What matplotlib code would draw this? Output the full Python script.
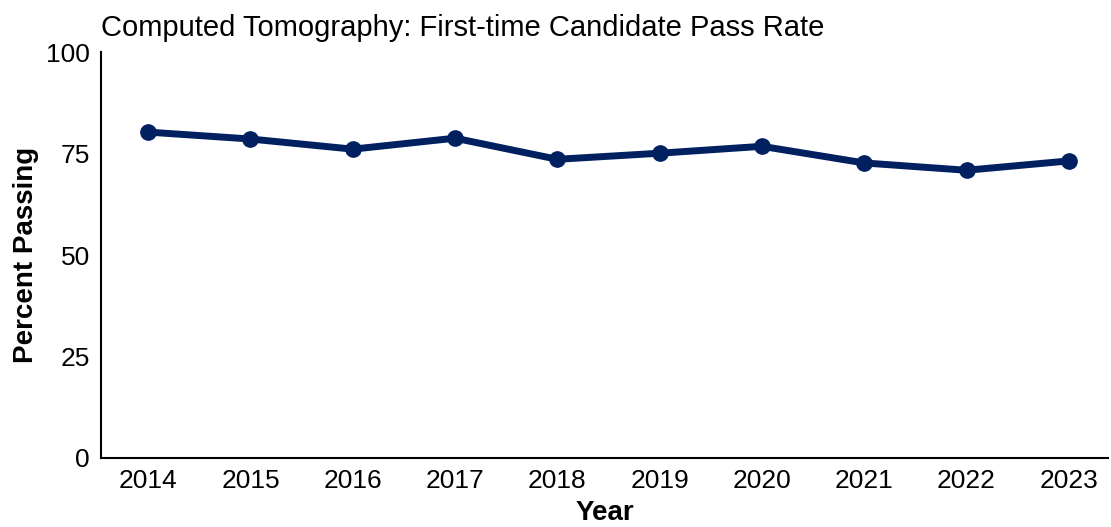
import matplotlib.pyplot as plt

plt.rcParams["font.family"] = ["Liberation Sans", "DejaVu Sans"]

# Data
years = ["2014", "2015", "2016", "2017", "2018", "2019", "2020", "2021", "2022", "2023"]
pass_rate = [80.3, 78.6, 76.1, 78.8, 73.6, 75.1, 76.8, 72.7, 70.9, 73.2]

fig = plt.figure(figsize=(11.11, 5.27), dpi=100)
ax = fig.add_axes([0.091, 0.131, 0.906, 0.770])

x = range(len(years))
ax.plot(x, pass_rate, color="#002060", linewidth=5, marker="o",
        markersize=11, solid_capstyle="round")

ax.set_xlim(-0.46, 9.38)
ax.set_ylim(0, 100)
ax.set_xticks(list(x))
ax.set_xticklabels(years)
ax.set_yticks([0, 25, 50, 75, 100])
ax.tick_params(axis="both", length=0, labelsize=19, pad=8)

for side in ["top", "right"]:
    ax.spines[side].set_visible(False)
for side in ["left", "bottom"]:
    ax.spines[side].set_linewidth(1.5)
    ax.spines[side].set_color("black")

ax.set_xlabel("Year", fontsize=20, fontweight="bold", labelpad=5)
ax.set_ylabel("Percent Passing", fontsize=20, fontweight="bold", labelpad=5)
ax.set_title("Computed Tomography: First-time Candidate Pass Rate",
             fontsize=21, loc="left", pad=12)

fig.savefig("out.png", dpi=100)
